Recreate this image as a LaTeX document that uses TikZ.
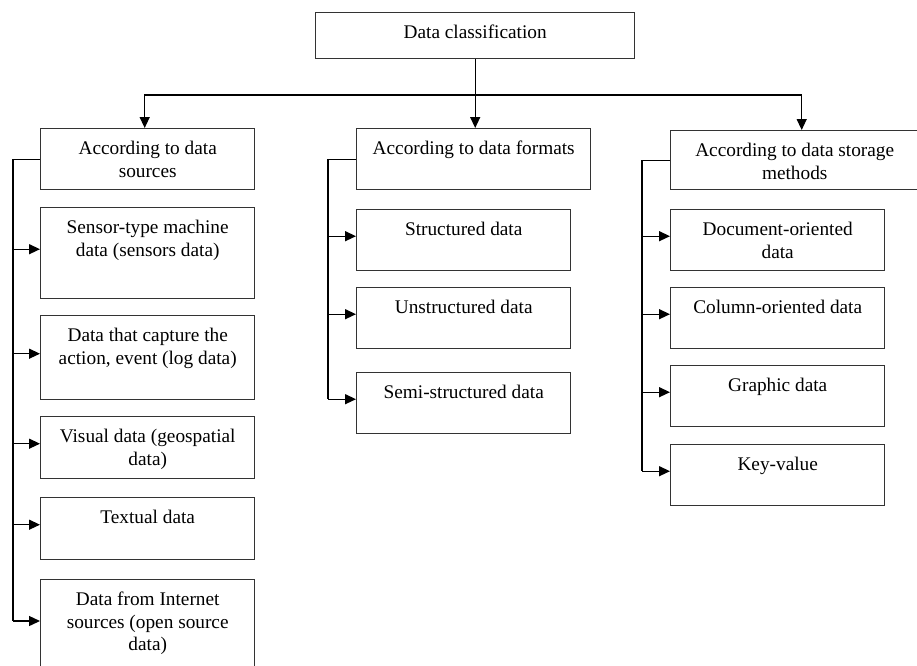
\documentclass[tikz,border=0pt]{standalone}
\usepackage{fontspec}
\setmainfont{Liberation Serif}
\usetikzlibrary{arrows.meta,positioning}
\begin{document}
\begin{tikzpicture}[x=1pt,y=-1pt,
  box/.style={draw=black!80, line width=1.4pt, anchor=north west, inner sep=0pt, minimum width=214pt, minimum height=61pt},
  lbl/.style={anchor=north, align=center, inner sep=0pt, yshift=-13pt, font=\fontsize{19.3}{22.5}\selectfont},
  conn/.style={draw=black, line width=1.4pt},
  arr/.style={conn, -{Triangle[length=11pt,width=10pt]}}
]
\useasboundingbox (0,0) rectangle (917,665);
\clip (0,0) rectangle (917,665);
% top
\node[box, minimum width=319pt, minimum height=46pt, label={[lbl]north:{Data classification}}] (top) at (315,12) {};
% headers
\node[box, minimum height=61pt, label={[lbl]north:{According to data\\sources}}] (src) at (40,128) {};
\node[box, minimum width=234pt, minimum height=61pt, label={[lbl]north:{According to data formats}}] (fmt) at (356,128) {};
\node[box, minimum width=248pt, minimum height=59pt, label={[lbl]north:{According to data storage\\methods}}] (stor) at (670,130) {};
% left column
\node[box, minimum height=91pt, label={[lbl]north:{Sensor-type machine\\data (sensors data)}}] (s1) at (40,207) {};
\node[box, minimum height=84pt, label={[lbl]north:{Data that capture the\\action, event (log data)}}] (s2) at (40,315) {};
\node[box, minimum height=62pt, label={[lbl]north:{Visual data (geospatial\\data)}}] (s3) at (40,416) {};
\node[box, minimum height=62pt, label={[lbl]north:{Textual data}}] (s4) at (40,497) {};
\node[box, minimum height=100pt, label={[lbl]north:{Data from Internet\\sources (open source\\data)}}] (s5) at (40,579) {};
% middle column
\node[box, label={[lbl]north:{Structured data}}] (f1) at (356,209) {};
\node[box, label={[lbl]north:{Unstructured data}}] (f2) at (356,287) {};
\node[box, label={[lbl]north:{Semi-structured data}}] (f3) at (356,372) {};
% right column
\node[box, label={[lbl]north:{Document-oriented\\data}}] (r1) at (670,209) {};
\node[box, label={[lbl]north:{Column-oriented data}}] (r2) at (670,287) {};
\node[box, label={[lbl]north:{Graphic data}}] (r3) at (670,365) {};
\node[box, label={[lbl]north:{Key-value}}] (r4) at (670,444) {};
% top connectors
\coordinate (bar) at (474.5,95);
\draw[arr] (top.south) -- (top.south |- fmt.north);
\draw[arr] (bar) -| ([xshift=-3pt]src.north);
\draw[arr] (bar) -| ([xshift=7pt]stor.north);
% left bracket
\coordinate (lb) at (13,0);
\coordinate (s5in) at ([yshift=-42pt]s5.north west);
\draw[conn] (src.west) -| (lb |- s5in);
\foreach \n in {s1,s2,s3,s4} \draw[arr] ([yshift=4pt]lb |- \n.west) -- ([yshift=4pt]\n.west);
\draw[arr] (lb |- s5in) -- (s5in);
% middle bracket
\coordinate (mb) at (328,0);
\draw[conn] (fmt.west) -| ([yshift=4pt]mb |- f3.west);
\foreach \n in {f1,f2,f3} \draw[arr] ([yshift=4pt]mb |- \n.west) -- ([yshift=4pt]\n.west);
% right bracket
\coordinate (rb) at (642,0);
\draw[conn] (stor.west) -| ([yshift=4pt]rb |- r4.west);
\foreach \n in {r1,r2,r3,r4} \draw[arr] ([yshift=4pt]rb |- \n.west) -- ([yshift=4pt]\n.west);
\end{tikzpicture}
\end{document}
